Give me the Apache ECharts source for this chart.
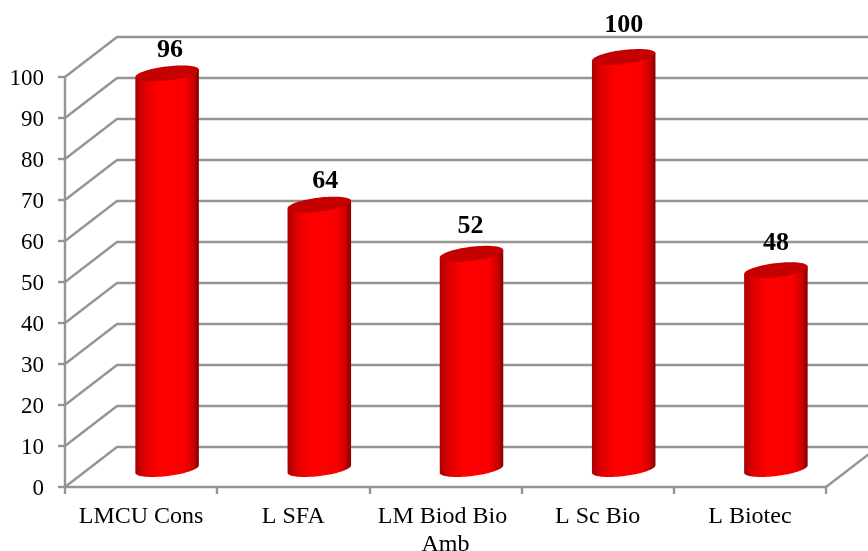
<!DOCTYPE html>
<html>
<head>
<meta charset="utf-8">
<style>html,body{margin:0;padding:0;background:#fff}#c{width:868px;height:551px}</style>
<script src="https://cdn.jsdelivr.net/npm/echarts@6/dist/echarts.min.js"></script>
</head>
<body>
<div id="c"></div>
<script>
const categories = ['LMCU Cons', 'L SFA', 'LM Biod Bio Amb', 'L Sc Bio', 'L Biotec'];
const values = [96, 64, 52, 100, 48];
const yTicks = [0, 10, 20, 30, 40, 50, 60, 70, 80, 90, 100];

// style constants
const DEPTH_X = 52, DEPTH_Y = -40, RX = 32, RY = 7, TILT = 7 * Math.PI / 180, BASE_DROP = 2;
const GRAY = '#959595', LINE_W = 2.4;
const labelNudge = [[3, 4], [6, 4], [-1, -1], [0, -5], [0, 0]];
const FONT = '"Liberation Serif","Times New Roman",serif';

function ellipsePt(cx, cy, t) {
  const a = RX * Math.cos(t), b = RY * Math.sin(t);
  return [cx + a * Math.cos(TILT) - b * Math.sin(TILT), cy - a * Math.sin(TILT) - b * Math.cos(TILT)];
}

function renderWall(params, api) {
  const cs = params.coordSys;
  const y = api.coord([0, api.value(1)])[1];
  const x0 = cs.x, x1 = cs.x + cs.width;
  const children = [{
    type: 'polyline',
    shape: { points: [[x0, y], [x0 + DEPTH_X, y + DEPTH_Y], [x1 + DEPTH_X, y + DEPTH_Y]] },
    style: { fill: null, stroke: GRAY, lineWidth: LINE_W }
  }];
  if (api.value(1) === 0) {
    children.push({
      type: 'line',
      shape: { x1: x1, y1: y, x2: x1 + DEPTH_X, y2: y + DEPTH_Y },
      style: { stroke: GRAY, lineWidth: LINE_W }
    });
  }
  return { type: 'group', children };
}

function renderCylinder(params, api) {
  const idx = api.value(0), v = api.value(1);
  const top = api.coord([idx, v]), base = api.coord([idx, 0]);
  const cx = top[0] + DEPTH_X / 2, cyTop = top[1] + DEPTH_Y / 2, cyBase = base[1] + DEPTH_Y / 2 + BASE_DROP;
  const body = [ellipsePt(cx, cyTop, Math.PI), ellipsePt(cx, cyTop, 0)];
  const N = 40;
  for (let i = 0; i <= N; i++) body.push(ellipsePt(cx, cyBase, -Math.PI * i / N));
  const lid = [];
  for (let i = 0; i < 72; i++) lid.push(ellipsePt(cx, cyTop, i * Math.PI / 36));
  const nudge = labelNudge[params.dataIndexInside] || [0, 0];
  return {
    type: 'group',
    children: [{
      type: 'polygon',
      shape: { points: body },
      style: {
        fill: {
          type: 'linear', x: 0, y: 0, x2: 1, y2: 0,
          colorStops: [
            { offset: 0, color: '#a80000' },
            { offset: 0.14, color: '#dc0000' },
            { offset: 0.32, color: '#fa0000' },
            { offset: 0.45, color: '#ff0000' },
            { offset: 0.78, color: '#f80000' },
            { offset: 0.92, color: '#c80000' },
            { offset: 1, color: '#850000' }
          ]
        }
      }
    }, {
      type: 'polygon',
      shape: { points: lid },
      style: { fill: '#c40000' }
    }, {
      type: 'text',
      x: cx + nudge[0],
      y: cyTop - 27 + nudge[1],
      style: {
        text: String(v),
        font: 'bold 26px ' + FONT,
        fill: '#000',
        align: 'center',
        verticalAlign: 'middle'
      }
    }]
  };
}

const chart = echarts.init(document.getElementById('c'), null, { renderer: 'canvas' });
chart.setOption({
  animation: false,
  backgroundColor: '#fff',
  grid: { left: 65, right: 42, top: 77, bottom: 64, outerBoundsMode: 'none' },
  xAxis: {
    type: 'category',
    data: categories,
    axisLine: { lineStyle: { color: GRAY, width: LINE_W } },
    axisTick: { show: true, length: 7, lineStyle: { color: GRAY, width: LINE_W } },
    axisLabel: {
      interval: 0, margin: 16, color: '#000', fontFamily: FONT, fontSize: 24,
      lineHeight: 28, width: 150, overflow: 'break'
    }
  },
  yAxis: {
    type: 'value',
    min: 0, max: 100, interval: 10,
    splitLine: { show: false },
    axisLine: { show: true, lineStyle: { color: GRAY, width: LINE_W } },
    axisTick: { show: true, length: 7, lineStyle: { color: GRAY, width: LINE_W } },
    axisLabel: { margin: 21, color: '#000', fontFamily: FONT, fontSize: 23, verticalAlign: 'top', lineHeight: 4 }
  },
  series: [{
    type: 'custom',
    coordinateSystem: 'cartesian2d',
    renderItem: renderWall,
    data: yTicks.map(t => [0, t]),
    silent: true,
    z: 1
  }, {
    type: 'custom',
    coordinateSystem: 'cartesian2d',
    renderItem: renderCylinder,
    data: values.map((v, i) => [i, v]),
    z: 3
  }]
});
</script>
</body>
</html>
